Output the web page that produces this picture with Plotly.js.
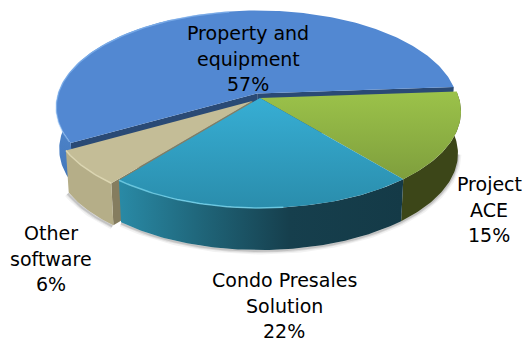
<!DOCTYPE html>
<html>
<head>
<meta charset="utf-8">
<script src="https://cdn.plot.ly/plotly-3.0.1.min.js"></script>
<style>html,body{margin:0;padding:0;background:#fff}#chart{width:524px;height:341px}</style>
</head>
<body>
<div id="chart"></div>
<script>
// Capitalised cost shares, drawn clockwise from the cut at the upper right
const categories = ['Project ACE', 'Condo Presales Solution', 'Other software', 'Property and equipment'];
const shares = [15, 22, 6, 57];
const labelLines = [['Project', 'ACE'], ['Condo Presales', 'Solution'], ['Other', 'software'], ['Property and', 'equipment']];
const labelCentres = [[489, 184], [284, 280], [51, 233], [248, 33]];
const startAngle = 86;
const pulledOut = [0, 0, 0.05, 0.05];

// Projection of the tilted disc
const cx = 260, cy = 98, rx = 199, ry = 94.6, persp = 0.14, depth = 42, baseShrink = 0.985;

function project(deg) {
  const a = deg * Math.PI / 180, d = 1 + persp * Math.cos(a);
  return [rx * Math.sin(a) / d, -ry * Math.cos(a) / d];
}
function rimPoint(deg, off, lower) {
  const p = project(deg);
  return lower ? [cx + off[0] + p[0] * baseShrink, cy + off[1] + p[1] + depth]
               : [cx + off[0] + p[0], cy + off[1] + p[1]];
}
function rim(a0, a1, off, lower) {
  const pts = [];
  const n = Math.ceil(Math.abs(a1 - a0));
  for (let i = 0; i <= n; i++) pts.push(rimPoint(a0 + (a1 - a0) * i / n, off, lower));
  return pts;
}
function poly(pts, fill, gradient) {
  const t = {
    x: pts.map(p => p[0]), y: pts.map(p => p[1]), type: 'scatter', mode: 'lines',
    fill: 'toself', line: {width: 0}, hoverinfo: 'skip', showlegend: false, fillcolor: fill
  };
  if (gradient) t.fillgradient = gradient;
  return t;
}
function stroke(pts, color, width) {
  return {x: pts.map(p => p[0]), y: pts.map(p => p[1]), type: 'scatter', mode: 'lines',
    line: {color, width}, hoverinfo: 'skip', showlegend: false};
}
const vert = (top, bottom, y0, y1) => ({type: 'vertical', start: y0, stop: y1, colorscale: [[0, top], [1, bottom]]});

// Angular extent and pull-out offset of every slice
let cursor = startAngle;
const slices = shares.map((v, i) => {
  const a0 = cursor, a1 = cursor + v * 3.6;
  cursor = a1;
  const m = (a0 + a1) / 2 * Math.PI / 180;
  return {a0, a1, off: [pulledOut[i] * rx * Math.sin(m), -pulledOut[i] * ry * Math.cos(m)]};
});
const [green, teal, beige, blue] = slices;
const apex = o => [cx + o[0], cy + o[1]];
const apexLow = o => [cx + o[0], cy + o[1] + depth];

const traces = [];

// Soft contact shadow along the lower rim
[[7, 'rgba(0,0,0,0.05)'], [4, 'rgba(0,0,0,0.08)'], [2, 'rgba(0,0,0,0.12)']].forEach(([w, c]) => {
  traces.push(stroke(rim(green.a0 + 12, green.a1, [0, 1], true).concat(rim(teal.a0, teal.a1, [0, 1], true)), c, w));
  traces.push(stroke(rim(beige.a0, beige.a1, [beige.off[0] - 1, beige.off[1] + 1], true), c, w));
  traces.push(stroke(rim(blue.a0 - 115, blue.a0 - 80, [blue.off[0] - 1, blue.off[1]], true), c, w));
});

// Property and equipment: cut faces, outer wall, top
const bO = blue.off;
traces.push(poly([apex(bO), rimPoint(blue.a0, bO), rimPoint(blue.a0, bO, true), apexLow(bO)], '#2a4a75'));
traces.push(poly([apex(bO), rimPoint(blue.a1, bO), rimPoint(blue.a1, bO, true), apexLow(bO)], '#2a4a75'));
traces.push(poly(rim(blue.a0, blue.a0 + 90, bO).concat(rim(blue.a0, blue.a0 + 90, bO, true).reverse()), '#4a7fc6',
  vert('#5088d0', '#4478bb', 100, 180)));
traces.push(poly([apex(bO)].concat(rim(blue.a0, blue.a1, bO)), '#5288d2'));
traces.push(stroke(rim(blue.a0 + 1, blue.a0 + 110, [bO[0], bO[1] + 0.5]), 'rgba(150,195,245,0.55)', 1.5));

// Project ACE
traces.push(poly(rim(green.a0, green.a1, green.off).concat(rim(green.a0, green.a1, green.off, true).reverse()), '#3c4618'));
traces.push(poly([apex(green.off)].concat(rim(green.a0, green.a1, green.off)), '#8fb044', vert('#9cc34a', '#7f9f3d', 90, 178)));

// Other software
const oO = beige.off;
traces.push(poly([apex(oO), rimPoint(beige.a0, oO), rimPoint(beige.a0, oO, true), apexLow(oO)], '#857d5f'));
traces.push(poly(rim(beige.a0, beige.a1, oO).concat(rim(beige.a0, beige.a1, oO, true).reverse()), '#b5ae88'));
traces.push(poly([apex(oO)].concat(rim(beige.a0, beige.a1, oO)), '#c4bd97'));
traces.push(stroke(rim(beige.a0, beige.a1, oO), '#dcd6b2', 1.5));

// Condo Presales Solution
traces.push(poly(rim(teal.a0, teal.a1, teal.off).concat(rim(teal.a0, teal.a1, teal.off, true).reverse()), '#1c5d70',
  {type: 'horizontal', start: 119, stop: 403, colorscale: [[0, '#298aa6'], [0.3, '#1f6478'], [0.6, '#163f4d'], [1, '#143a47']]}));
traces.push(poly([apex(teal.off)].concat(rim(teal.a0, teal.a1, teal.off)), '#2f9fc2', vert('#37aed4', '#2a8dac', 98, 208)));
traces.push(stroke(rim(teal.a1 - 45, teal.a1, teal.off), 'rgba(120,215,240,0.75)', 1.5));

// Data labels: name lines, then the share
const lineGap = 25.5;
const annotations = [];
categories.forEach((name, i) => {
  labelLines[i].concat([shares[i] + '%']).forEach((text, j) => {
    annotations.push({x: labelCentres[i][0], y: labelCentres[i][1] + j * lineGap, text, showarrow: false,
      xanchor: 'center', yanchor: 'middle', font: {family: '"DejaVu Sans", sans-serif', size: 19, color: '#000'}});
  });
});

Plotly.newPlot('chart', traces, {
  width: 524, height: 341, margin: {l: 0, r: 0, t: 0, b: 0},
  paper_bgcolor: '#fff', plot_bgcolor: '#fff', showlegend: false,
  xaxis: {range: [0, 524], visible: false, fixedrange: true},
  yaxis: {range: [341, 0], visible: false, fixedrange: true},
  annotations
}, {displayModeBar: false, staticPlot: true});
</script>
</body>
</html>
